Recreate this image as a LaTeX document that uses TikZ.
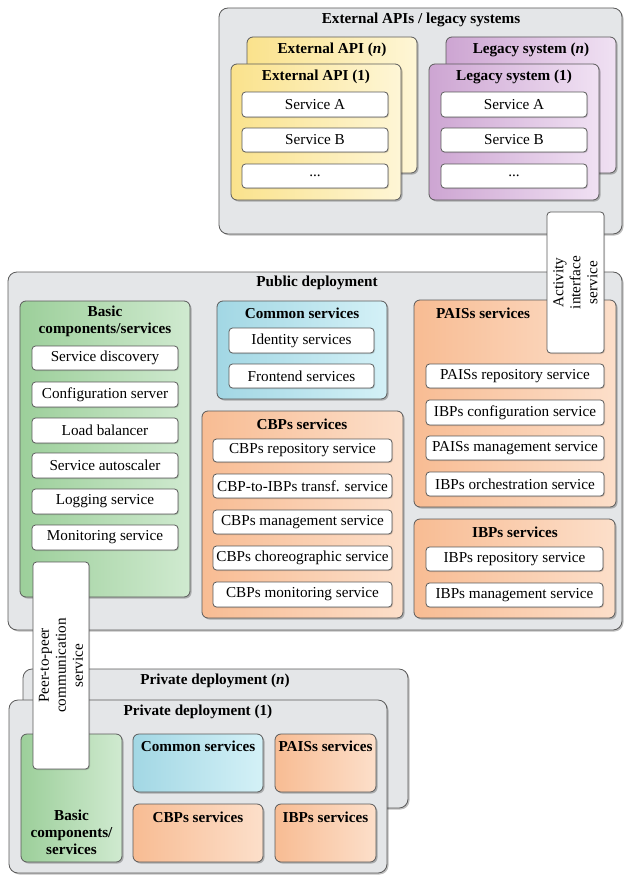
\documentclass[tikz,border=0pt]{standalone}
\usepackage{fontspec}
\setmainfont{Liberation Serif}
\usetikzlibrary{shadows}
\definecolor{bordc}{HTML}{5A5A5A}
\definecolor{bgc}{HTML}{E4E6E8}
\definecolor{grnL}{HTML}{9CCF9A}
\definecolor{grnR}{HTML}{D0EAD0}
\definecolor{orgL}{HTML}{F8BC93}
\definecolor{orgR}{HTML}{FCDFCA}
\definecolor{bluL}{HTML}{A2D7E4}
\definecolor{bluR}{HTML}{D4F1F7}
\definecolor{yelL}{HTML}{FAE28C}
\definecolor{yelR}{HTML}{FEF6D6}
\definecolor{purL}{HTML}{CDA5D2}
\definecolor{purR}{HTML}{F0E1F3}
\newcommand\rbox[7]{\node[#2, minimum width={(#5-#3)*1pt}, minimum height={(#6-#4)*1pt}] (#1) at ({(#3+#5)/2},{(#4+#6)/2}) {#7};}
\tikzset{
  shd/.style={drop shadow={shadow xshift=1.5pt, shadow yshift=-1.5pt, opacity=0.25, fill=black}},
  outerbox/.style={draw=bordc, fill=bgc, rounded corners=9pt, line width=0.8pt, shd, inner sep=0pt},
  grp/.style={draw=bordc, rounded corners=6pt, line width=0.8pt, shd, inner sep=0pt},
  green/.style={grp, left color=grnL, right color=grnR},
  orange/.style={grp, left color=orgL, right color=orgR},
  blue/.style={grp, left color=bluL, right color=bluR},
  yellow/.style={grp, left color=yelL, right color=yelR},
  purple/.style={grp, left color=purL, right color=purR},
  svc/.style={draw=bordc, fill=white, rounded corners=3.5pt, line width=0.8pt, inner sep=0pt, font=\fontsize{15.2}{17}\selectfont, drop shadow={shadow xshift=1pt, shadow yshift=-1pt, opacity=0.15, fill=black}},
  vbox/.style={svc},
  ttl/.style={font=\fontsize{15.2}{17}\selectfont\bfseries, inner sep=0pt, align=center},
  vtxt/.style={font=\fontsize{15.2}{17}\selectfont, inner sep=0pt, align=center, rotate=90}
}
\begin{document}
\begin{tikzpicture}[x=1pt,y=-1pt]
\useasboundingbox (0,0) rectangle (624,875);
% External APIs / legacy systems
\rbox{ext}{outerbox}{219}{8}{622}{234}{}
\node[ttl] (extT) at (421,20) {External APIs / legacy systems};
\rbox{apin}{yellow}{247}{37}{417}{173}{}
\node[ttl] (apinT) at (332,50) {External API (\textit{n})};
\rbox{legn}{purple}{446}{37}{616}{173}{}
\node[ttl] (legnT) at (531,50) {Legacy system (\textit{n})};
\rbox{api1}{yellow}{231}{64}{401}{200}{}
\node[ttl] (api1T) at (316,77) {External API (1)};
\rbox{apiA}{svc}{242}{92}{388}{117}{Service A}
\rbox{apiB}{svc}{242}{128}{388}{152}{Service B}
\rbox{apiC}{svc}{242}{164}{388}{188}{...}
\rbox{leg1}{purple}{429}{64}{599}{200}{}
\node[ttl] (leg1T) at (514,77) {Legacy system (1)};
\rbox{legA}{svc}{441}{92}{587}{117}{Service A}
\rbox{legB}{svc}{441}{128}{587}{152}{Service B}
\rbox{legC}{svc}{441}{164}{587}{188}{...}
% Public deployment
\rbox{pub}{outerbox}{8}{272}{622}{630}{}
\node[ttl] (pubT) at (317,283) {Public deployment};
\rbox{basic}{green}{20}{301}{190}{597}{}
\node[ttl] (basicT) at (105,321.5) {Basic\\components/services};
\rbox{b1}{svc}{32}{346}{178}{370}{Service discovery}
\rbox{b2}{svc}{32}{382}{178}{407}{Configuration server}
\rbox{b3}{svc}{32}{418}{178}{443}{Load balancer}
\rbox{b4}{svc}{32}{453}{178}{478}{Service autoscaler}
\rbox{b5}{svc}{32}{489}{178}{514}{Logging service}
\rbox{b6}{svc}{32}{525}{178}{550}{Monitoring service}
\rbox{com}{blue}{217}{301}{387}{399}{}
\node[ttl] (comT) at (302,313) {Common services};
\rbox{c1}{svc}{229}{328}{374}{353}{Identity services}
\rbox{c2}{svc}{229}{364}{374}{388}{Frontend services}
\rbox{cbp}{orange}{202}{411}{403}{618}{}
\node[ttl] (cbpT) at (302,424) {CBPs services};
\rbox{p1}{svc}{213}{439}{392}{462}{CBPs repository service}
\rbox{p2}{svc}{213}{474}{392}{498}{CBP-to-IBPs transf. service}
\rbox{p3}{svc}{213}{510}{392}{534}{CBPs management service}
\rbox{p4}{svc}{213}{546}{392}{570}{CBPs choreographic service}
\rbox{p5}{svc}{213}{582}{392}{607}{CBPs monitoring service}
\rbox{pais}{orange}{414}{300}{616}{507}{}
\node[ttl] (paisT) at (483,313) {PAISs services};
\rbox{a1}{svc}{426}{364}{604}{388}{PAISs repository service}
\rbox{a2}{svc}{426}{400}{604}{425}{IBPs configuration service}
\rbox{a3}{svc}{426}{436}{604}{460}{PAISs management service}
\rbox{a4}{svc}{426}{472}{604}{496}{IBPs orchestration service}
\rbox{ibp}{orange}{414}{519}{615}{618}{}
\node[ttl] (ibpT) at (515,532) {IBPs services};
\rbox{i1}{svc}{426}{547}{603}{571}{IBPs repository service}
\rbox{i2}{svc}{426}{583}{603}{607}{IBPs management service}
% Private deployments
\rbox{privn}{outerbox}{23}{669}{408}{808}{}
\node[ttl] (privnT) at (215,681) {Private deployment (\textit{n})};
\rbox{priv1}{outerbox}{9}{700}{387}{873}{}
\node[ttl] (priv1T) at (198,712) {Private deployment (1)};
\rbox{qbasic}{green}{21}{734}{122}{862}{}
\node[ttl] (qbasicT) at (71.5,832) {Basic\\components/\\services};
\rbox{qcom}{blue}{133}{734}{263}{792}{}
\node[ttl] (qcomT) at (198,746) {Common services};
\rbox{qpais}{orange}{275}{734}{376}{792}{}
\node[ttl] (qpaisT) at (325.5,746) {PAISs services};
\rbox{qcbp}{orange}{133}{804}{263}{862}{}
\node[ttl] (qcbpT) at (198,817) {CBPs services};
\rbox{qibp}{orange}{275}{804}{376}{862}{}
\node[ttl] (qibpT) at (325.5,817) {IBPs services};
% Interface boxes on top
\rbox{act}{vbox}{547}{212}{604}{353}{}
\node[vtxt] (actT) at (575.5,282.5) {Activity\\interface\\service};
\rbox{p2p}{vbox}{33}{562}{89}{769}{}
\node[vtxt] (p2pT) at (61,665.5) {Peer-to-peer\\communication\\service};
\end{tikzpicture}
\end{document}
